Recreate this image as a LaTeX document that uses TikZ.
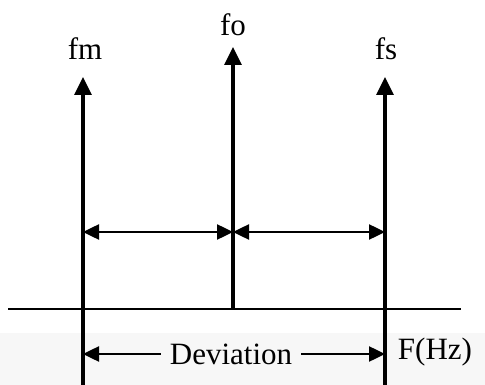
\documentclass[tikz,border=0pt]{standalone}
\usepackage{fontspec}
\setmainfont{Liberation Serif}
\usetikzlibrary{arrows.meta}
\begin{document}
\begin{tikzpicture}[x=1pt,y=-1pt,
  lbl/.style={font=\fontsize{31}{31}\selectfont, inner sep=0pt},
  spike/.style={line width=3.2pt,-{Triangle[length=18pt,width=17pt]}},
  axisline/.style={line width=2.6pt},
  dimarrow/.style={line width=2.5pt,{Triangle[length=16pt,width=15pt]}-{Triangle[length=16pt,width=15pt]}},
  onearrow/.style={line width=2.5pt,-{Triangle[length=16pt,width=15pt]}}]
\useasboundingbox (0,0) rectangle (485,385);
\fill[black!3] (0,333) rectangle (485,385);
% coordinates
\coordinate (mb) at (83,385);
\coordinate (mt) at (83,77);
\coordinate (ob) at (233,309);
\coordinate (ot) at (233,47);
\coordinate (sb) at (385,385);
\coordinate (st) at (385,77);
\coordinate (al) at (8,309);
\coordinate (ar) at (461,309);
\coordinate (m1) at (83,232);
\coordinate (o1) at (233,232);
\coordinate (s1) at (385,232);
% labels
\node[lbl] (fm) at (85,49) {fm};
\node[lbl] (fo) at (233,25) {fo};
\node[lbl] (fs) at (386,49) {fs};
\node[lbl] (fhz) at (435,352) {F(Hz)};
\node[lbl, inner xsep=9pt] (dev) at (231,354) {Deviation};
% axis and spikes
\draw[axisline] (al) -- (ar);
\draw[spike] (mb) -- (mt);
\draw[spike] (ob) -- (ot);
\draw[spike] (sb) -- (st);
% deviation arrows
\draw[dimarrow] (m1) -- (o1);
\draw[dimarrow] (o1) -- (s1);
\draw[onearrow] (dev.west) -- (dev.west -| mb);
\draw[onearrow] (dev.east) -- (dev.east -| sb);
\end{tikzpicture}
\end{document}
